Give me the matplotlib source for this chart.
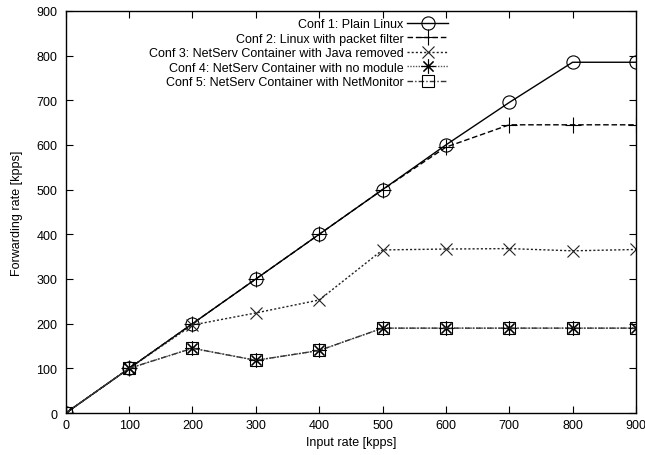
import matplotlib
matplotlib.use("Agg")
import matplotlib.pyplot as plt

plt.rcParams['font.family'] = ['Liberation Sans', 'DejaVu Sans']

# data
input_rate = [0, 100, 200, 300, 400, 500, 600, 700, 800, 900]
conf1 = [0, 100, 200, 300, 400, 500, 600, 695, 785, 785]
conf2 = [0, 100, 200, 300, 400, 500, 595, 645, 645, 645]
conf3 = [0, 100, 197, 224, 253, 365, 367, 368, 363, 366]
conf4 = [0, 100, 145, 118, 140, 190, 190, 190, 190, 190]
conf5 = [0, 100, 145, 118, 140, 190, 190, 190, 190, 190]

labels = [
    "Conf 1: Plain Linux",
    "Conf 2: Linux with packet filter",
    "Conf 3: NetServ Container with Java removed",
    "Conf 4: NetServ Container with no module",
    "Conf 5: NetServ Container with NetMonitor",
]

fig = plt.figure(figsize=(6.45, 4.56), dpi=100)
ax = fig.add_axes([0.102, 0.092, 0.884, 0.882])

ax.plot(input_rate, conf1, color="black", lw=1, ls="-", marker="o", ms=9.5,
        mfc="none", mew=0.8, label=labels[0])
ax.plot(input_rate, conf2, color="black", lw=1, ls=(0, (4, 2)), marker="+", ms=11,
        mew=0.8, label=labels[1])
ax.plot(input_rate, conf3, color="#222222", lw=1, ls=(0, (1.5, 1.5)), marker="x", ms=9,
        mew=0.8, label=labels[2])
ax.plot(input_rate, conf4, color="#555555", lw=1, ls=(0, (1, 1)), marker=(8, 2, 0), ms=10,
        mew=0.8, mec="black", label=labels[3])
ax.plot(input_rate, conf5, color="#333333", lw=1, ls=(0, (4, 1.5, 1, 1.5)), marker="s", ms=9,
        mfc="none", mew=0.8, mec="black", label=labels[4])

ax.set_xlim(0, 900)
ax.set_ylim(0, 900)
ax.set_xticks(range(0, 901, 100))
ax.set_yticks(range(0, 901, 100))
ax.tick_params(direction="in", top=True, right=True, length=5, labelsize=9)
ax.tick_params(axis="x", pad=4)
ax.tick_params(axis="y", pad=6)
for s in ax.spines.values():
    s.set_linewidth(1)

ax.set_xlabel("Input rate [kpps]", fontsize=9, labelpad=4)
ax.set_ylabel("Forwarding rate [kpps]", fontsize=9, labelpad=10)

ax.legend(loc="upper right", bbox_to_anchor=(0.695, 0.958), bbox_transform=fig.transFigure,
          frameon=False, markerfirst=False, fontsize=9, handlelength=3.3,
          labelspacing=0.2, borderaxespad=0, borderpad=0, handletextpad=0.3)

for t in ax.get_legend().get_texts():
    t.set_ha("right")

fig.savefig("out.png", dpi=100)
